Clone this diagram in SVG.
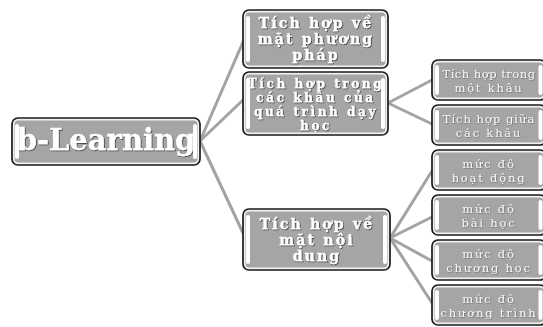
<svg xmlns="http://www.w3.org/2000/svg" width="543" height="327" viewBox="0 0 543 327">
<style>
.frame{fill:#f0f0f0;stroke:#1a1a1a;stroke-width:1.7}
.fill{fill:#a5a5a5}
.bar{fill:#ffffff}
.conn{stroke:#a3a3a3;stroke-width:3;fill:none;stroke-linecap:round}
.tb{font-family:"DejaVu Serif","Liberation Serif",serif;font-weight:bold;fill:#ffffff;stroke:#ffffff;stroke-width:0.3;text-anchor:middle;filter:url(#ts)}
.m{font-size:14px;letter-spacing:2.2px}
.s{font-size:12px;letter-spacing:2.6px}
.tl{font-family:"DejaVu Serif","Liberation Serif",serif;font-size:11.5px;letter-spacing:1.8px;fill:#f6f6f6;text-anchor:middle;filter:url(#ts2)}
.tight{letter-spacing:0.5px}
.mid{letter-spacing:1px}
</style>
<defs>
<filter id="ts" x="-10%" y="-30%" width="120%" height="160%"><feDropShadow dx="0.8" dy="0.8" stdDeviation="0.5" flood-color="#2a2a2a" flood-opacity="0.85"/></filter>
<filter id="ts2" x="-10%" y="-30%" width="120%" height="160%"><feDropShadow dx="0.6" dy="0.6" stdDeviation="0.4" flood-color="#555555" flood-opacity="0.8"/></filter>
<clipPath id="c0"><rect x="14.5" y="120.5" width="183" height="42"/></clipPath>
<clipPath id="c1"><rect x="245.5" y="12.5" width="140" height="53"/></clipPath>
<clipPath id="c2"><rect x="245.5" y="74.5" width="140" height="58"/></clipPath>
<clipPath id="c3"><rect x="245.5" y="211.5" width="142" height="56"/></clipPath>
<clipPath id="cl"><rect x="434.5" y="0" width="109" height="327"/></clipPath>
</defs>
<rect width="543" height="327" fill="#ffffff"/>
<g id="connectors">
<line class="conn" x1="200" y1="141" x2="243" y2="42"/>
<line class="conn" x1="200" y1="141" x2="243" y2="100"/>
<line class="conn" x1="200" y1="141" x2="243" y2="233"/>
<line class="conn" x1="388" y1="103" x2="432" y2="80"/>
<line class="conn" x1="388" y1="103" x2="432" y2="124"/>
<line class="conn" x1="390" y1="238" x2="432" y2="171"/>
<line class="conn" x1="390" y1="238" x2="432" y2="217"/>
<line class="conn" x1="390" y1="238" x2="432" y2="261"/>
<line class="conn" x1="390" y1="238" x2="432" y2="303"/>
</g>
<g id="root">
<rect class="frame" x="12" y="118" width="188" height="47" rx="6"/>
<rect class="fill" x="14.5" y="120.5" width="183" height="42" rx="4"/>
<text class="tb" clip-path="url(#c0)" x="106" y="150" font-size="29">b-Learning</text>
<rect class="bar" x="15" y="124" width="4" height="35" rx="2"/>
<rect class="bar" x="193" y="124" width="4" height="35" rx="2"/>
</g>
<g id="n1">
<rect class="frame" x="243" y="10" width="145" height="58" rx="6"/>
<rect class="fill" x="245.5" y="12.5" width="140" height="53" rx="4"/>
<text class="tb m" clip-path="url(#c1)" x="316" y="27.5">Tích hợp về</text>
<text class="tb m" clip-path="url(#c1)" x="316" y="43.8">mặt phương</text>
<text class="tb m" clip-path="url(#c1)" x="316" y="60">pháp</text>
<rect class="bar" x="246" y="16" width="4" height="46" rx="2"/>
<rect class="bar" x="381" y="16" width="4" height="46" rx="2"/>
</g>
<g id="n2">
<rect class="frame" x="243" y="72" width="145" height="63" rx="6"/>
<rect class="fill" x="245.5" y="74.5" width="140" height="58" rx="4"/>
<text class="tb s" clip-path="url(#c2)" x="316" y="88">Tích hợp trong</text>
<text class="tb s" clip-path="url(#c2)" x="316" y="102">các khâu của</text>
<text class="tb s" clip-path="url(#c2)" x="316" y="116">quá trình dạy</text>
<text class="tb s" clip-path="url(#c2)" x="316" y="130">học</text>
<rect class="bar" x="246" y="78" width="4" height="51" rx="2"/>
<rect class="bar" x="381" y="78" width="4" height="51" rx="2"/>
</g>
<g id="n3">
<rect class="frame" x="243" y="209" width="147" height="61" rx="6"/>
<rect class="fill" x="245.5" y="211.5" width="142" height="56" rx="4"/>
<text class="tb m" clip-path="url(#c3)" x="317" y="228.5">Tích hợp về</text>
<text class="tb m" clip-path="url(#c3)" x="317" y="244.8">mặt nội</text>
<text class="tb m" clip-path="url(#c3)" x="317" y="261">dung</text>
<rect class="bar" x="246" y="215" width="4" height="49" rx="2"/>
<rect class="bar" x="383" y="215" width="4" height="49" rx="2"/>
</g>
<g id="l1">
<rect class="frame" x="432" y="60" width="114" height="40" rx="6"/>
<rect class="fill" x="434.5" y="62.5" width="109" height="35" rx="4"/>
<text class="tl tight" clip-path="url(#cl)" x="489" y="77.5">Tích hợp trong</text>
<text class="tl" clip-path="url(#cl)" x="489" y="91.5">một khâu</text>
<rect class="bar" x="435" y="65" width="4" height="30" rx="2"/>
<rect class="bar" x="538.5" y="65" width="4" height="30" rx="2"/>
</g>
<g id="l2">
<rect class="frame" x="432" y="105" width="114" height="40" rx="6"/>
<rect class="fill" x="434.5" y="107.5" width="109" height="35" rx="4"/>
<text class="tl mid" clip-path="url(#cl)" x="489" y="122.5">Tích hợp giữa</text>
<text class="tl" clip-path="url(#cl)" x="489" y="136.5">các khâu</text>
<rect class="bar" x="435" y="110" width="4" height="30" rx="2"/>
<rect class="bar" x="538.5" y="110" width="4" height="30" rx="2"/>
</g>
<g id="l3">
<rect class="frame" x="432" y="150" width="114" height="40" rx="6"/>
<rect class="fill" x="434.5" y="152.5" width="109" height="35" rx="4"/>
<text class="tl" clip-path="url(#cl)" x="489" y="167.5">mức độ</text>
<text class="tl" clip-path="url(#cl)" x="489" y="181.5">hoạt động</text>
<rect class="bar" x="435" y="155" width="4" height="30" rx="2"/>
<rect class="bar" x="538.5" y="155" width="4" height="30" rx="2"/>
</g>
<g id="l4">
<rect class="frame" x="432" y="195" width="114" height="40" rx="6"/>
<rect class="fill" x="434.5" y="197.5" width="109" height="35" rx="4"/>
<text class="tl" clip-path="url(#cl)" x="489" y="212.5">mức độ</text>
<text class="tl" clip-path="url(#cl)" x="489" y="226.5">bài học</text>
<rect class="bar" x="435" y="200" width="4" height="30" rx="2"/>
<rect class="bar" x="538.5" y="200" width="4" height="30" rx="2"/>
</g>
<g id="l5">
<rect class="frame" x="432" y="240" width="114" height="40" rx="6"/>
<rect class="fill" x="434.5" y="242.5" width="109" height="35" rx="4"/>
<text class="tl" clip-path="url(#cl)" x="489" y="257.5">mức độ</text>
<text class="tl" clip-path="url(#cl)" x="489" y="271.5">chương học</text>
<rect class="bar" x="435" y="245" width="4" height="30" rx="2"/>
<rect class="bar" x="538.5" y="245" width="4" height="30" rx="2"/>
</g>
<g id="l6">
<rect class="frame" x="432" y="285" width="114" height="40" rx="6"/>
<rect class="fill" x="434.5" y="287.5" width="109" height="35" rx="4"/>
<text class="tl" clip-path="url(#cl)" x="489" y="302.5">mức độ</text>
<text class="tl" clip-path="url(#cl)" x="489" y="316.5">chương trình</text>
<rect class="bar" x="435" y="290" width="4" height="30" rx="2"/>
<rect class="bar" x="538.5" y="290" width="4" height="30" rx="2"/>
</g>
</svg>
